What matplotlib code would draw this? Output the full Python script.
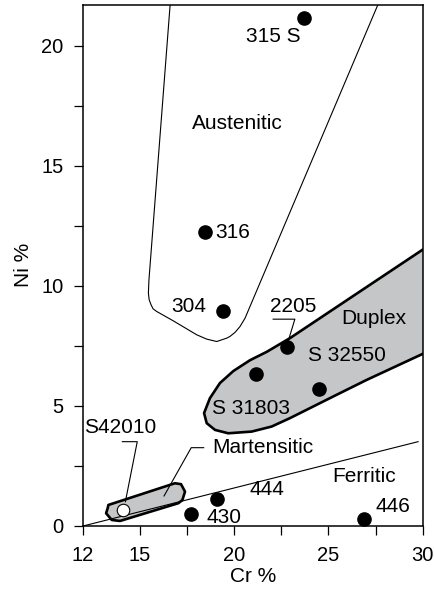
import matplotlib
matplotlib.use("Agg")
import matplotlib.pyplot as plt
from matplotlib.patches import Polygon

plt.rcParams["font.family"] = ["Liberation Sans", "DejaVu Sans"]

# grades (Cr %, Ni %)
grades = ["315 S", "316", "304", "2205", "S 31803", "S 32550", "430", "444", "446"]
cr = [23.7, 18.46, 19.39, 22.78, 21.16, 24.51, 17.73, 19.09, 26.86]
ni = [21.15, 12.24, 8.97, 7.47, 6.32, 5.69, 0.51, 1.11, 0.28]
open_cr = [14.10]
open_ni = [0.67]

# region outlines
aus_cr = [16.69, 15.49, 15.46, 15.50, 15.60, 15.71, 15.90, 16.78, 18.02, 18.55,
          19.08, 19.61, 19.78, 20.05, 20.31, 20.58, 28.05]
aus_ni = [22.5, 10.25, 9.70, 9.42, 9.21, 9.04, 8.93, 8.54, 7.96, 7.78,
          7.68, 7.82, 7.89, 8.06, 8.30, 8.65, 22.5]

dup_cr = [30.5, 22.96, 21.73, 20.84, 19.96, 19.25, 18.72, 18.41, 18.55, 18.99,
          19.69, 20.93, 21.99, 22.96, 25.25, 27.02, 30.5]
dup_ni = [11.77, 7.82, 7.25, 6.90, 6.45, 5.95, 5.32, 4.70, 4.28, 4.00,
          3.86, 3.93, 4.14, 4.49, 5.39, 6.08, 7.35]

mar_cr = [13.34, 16.87, 17.19, 17.40, 17.26, 17.05, 13.96, 13.52, 13.22, 13.31]
mar_ni = [0.875, 1.78, 1.74, 1.43, 1.08, 0.95, 0.21, 0.25, 0.53, 0.76]

fer_cr = [12.0, 29.75]
fer_ni = [0.0, 3.51]

GRAY = "#c5c6c8"

fig = plt.figure(figsize=(4.35, 5.93), dpi=100)
ax = fig.add_axes([0.191, 0.113, 0.781, 0.879])

ax.plot(aus_cr, aus_ni, color="black", lw=0.8, zorder=2)
ax.add_patch(Polygon(list(zip(dup_cr, dup_ni)), closed=True, facecolor=GRAY,
                     edgecolor="black", lw=1.9, joinstyle="round", zorder=2))
ax.add_patch(Polygon(list(zip(mar_cr, mar_ni)), closed=True, facecolor=GRAY,
                     edgecolor="black", lw=1.9, joinstyle="round", zorder=2))
ax.plot(fer_cr, fer_ni, color="black", lw=0.8, zorder=3)

ax.plot(cr, ni, "o", color="black", ms=9.5, zorder=5)
ax.plot(open_cr, open_ni, "o", mfc="white", mec="black", mew=0.8, ms=9, zorder=5)

# leader lines
ax.plot([22.07, 23.22, 22.78], [8.61, 8.61, 7.47], color="black", lw=0.8, zorder=4)
ax.plot([14.08, 14.87, 14.24], [3.51, 3.51, 1.01], color="black", lw=0.8, zorder=4)
ax.plot([18.39, 17.73, 16.29], [3.26, 3.26, 1.25], color="black", lw=0.8, zorder=4)

fs = 15
labels = [
    ("315 S", 22.07, 20.36), ("Austenitic", 20.17, 16.75), ("316", 19.90, 12.2),
    ("304", 17.58, 9.14), ("2205", 23.13, 9.14), ("Duplex", 27.42, 8.65),
    ("S 32550", 25.96, 7.10), ("S 31803", 20.88, 4.90), ("S42010", 13.96, 4.11),
    ("Martensitic", 21.54, 3.26), ("Ferritic", 26.89, 2.05), ("444", 21.72, 1.5),
    ("430", 19.46, 0.35), ("446", 28.43, 0.83),
]
for txt, x, y in labels:
    ax.text(x, y, txt, fontsize=fs, ha="center", va="center", zorder=6)

ax.set_xlim(12, 30)
ax.set_ylim(0, 21.7)
ax.set_xticks([12, 15, 20, 25, 30])
ax.set_xticks([17.5, 22.5, 27.5], minor=True)
ax.set_yticks([0, 5, 10, 15, 20])
ax.set_yticks([2.5, 7.5, 12.5, 17.5], minor=True)
ax.tick_params(which="both", direction="out", length=6.5, width=0.9, labelsize=14.5)
ax.tick_params(axis="x", pad=8)
ax.tick_params(axis="y", pad=7.5)
for s in ax.spines.values():
    s.set_linewidth(1.1)

ax.set_xlabel("Cr %", fontsize=fs, labelpad=1)
ax.set_ylabel("Ni %", fontsize=fs, labelpad=6)

fig.savefig("out.png", dpi=100)
